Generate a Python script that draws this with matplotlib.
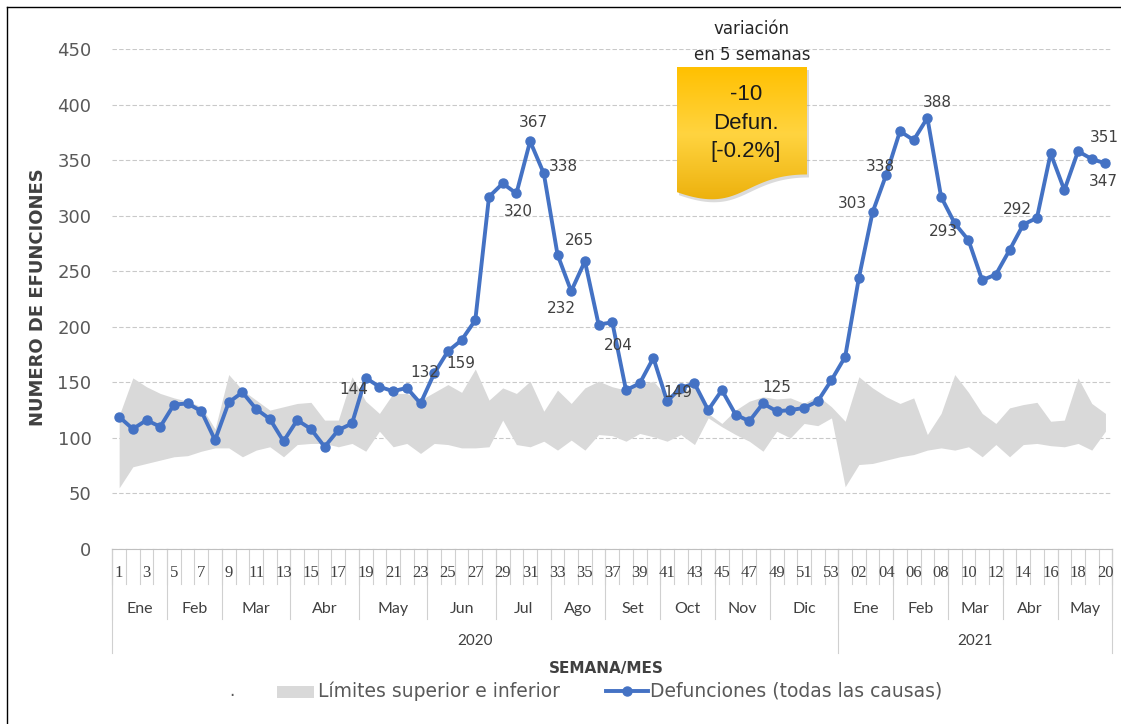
import numpy as np
import matplotlib
matplotlib.use('Agg')
import matplotlib.pyplot as plt
from matplotlib.patches import Polygon, Rectangle
from matplotlib.lines import Line2D

# ---- datos ----
semanas_2020 = [str(i) for i in range(1, 54)]
semanas_2021 = ['%02d' % i for i in range(1, 21)]
semanas = semanas_2020 + semanas_2021

meses_2020 = ['Ene', 'Feb', 'Mar', 'Abr', 'May', 'Jun', 'Jul', 'Ago', 'Set', 'Oct', 'Nov', 'Dic']
n_sem_2020 = [4, 4, 5, 5, 5, 5, 4, 4, 4, 4, 4, 5]
meses_2021 = ['Ene', 'Feb', 'Mar', 'Abr', 'May']
n_sem_2021 = [4, 4, 4, 4, 4]
anios = ['2020', '2021']

defunciones = [119, 108, 116, 110, 130, 131, 124, 98, 132, 141,
               126, 117, 97, 116, 108, 92, 107, 113, 154, 146,
               142, 145, 131, 158, 178, 188, 206, 317, 329, 320,
               367, 338, 265, 232, 259, 202, 204, 143, 149, 172,
               133, 145, 149, 125, 143, 121, 115, 131, 124, 125,
               127, 133, 152,
               173, 244, 303, 337, 376, 368, 388, 317, 293, 278,
               242, 247, 269, 292, 298, 356, 323, 358, 351, 347]

lim_sup = [120, 154, 146, 140, 136, 133, 128, 108, 157, 143,
           134, 125, 128, 131, 132, 116, 116, 155, 133, 122,
           140, 140, 134, 141, 148, 141, 162, 134, 145, 140,
           151, 124, 143, 131, 145, 151, 146, 143, 148, 151,
           137, 141, 146, 122, 113, 125, 133, 137, 135, 136,
           131, 138, 128,
           115, 155, 145, 137, 131, 136, 103, 122, 157, 141,
           122, 113, 127, 130, 132, 115, 116, 154, 131, 122]

lim_inf = [55, 74, 77, 80, 83, 84, 88, 91, 91, 83,
           89, 92, 83, 94, 95, 95, 92, 95, 88, 106,
           92, 95, 86, 95, 94, 91, 91, 92, 116, 94,
           92, 97, 89, 98, 89, 103, 102, 97, 104, 101,
           97, 103, 94, 118, 110, 103, 97, 88, 106, 100,
           113, 111, 118,
           56, 76, 77, 80, 83, 85, 89, 91, 89, 92,
           83, 94, 83, 94, 95, 93, 92, 95, 89, 106]

# etiquetas de datos (indice de semana, texto)
etiq_idx = [18, 22, 23, 30, 29, 31, 34, 33, 36, 40, 48, 55, 56, 59, 61, 66, 71, 72]
etiq_txt = ['144', '132', '159', '367', '320', '338', '265', '232', '204', '149',
            '125', '303', '338', '388', '293', '292', '351', '347']
# desplazamiento en pixeles (dx, dy)
etiq_off = [(-12, -12), (4, 31), (27, 10), (3, 19), (2, -18), (20, 7), (-6, 21),
            (-10, -17), (6, -23), (11, 9), (0, 24), (-20, 9), (-6, 8), (10, 15),
            (-11, -8), (-6, 15), (13, 22), (-2, -18)]

variacion = ['-10', 'Defun.', '[-0.2%]']

W, H = 1121, 724
fig = plt.figure(figsize=(W / 100, H / 100), dpi=100)
fig.patch.set_facecolor('white')

ax = fig.add_axes([112.3 / W, 1 - 549 / H, 1000 / W, 500 / H])
n = len(defunciones)
x = np.arange(n) + 0.5

ax.fill_between(x, lim_inf, lim_sup, color='#D9D9D9', lw=0, zorder=1)
ax.plot(x, defunciones, color='#4472C4', lw=2.8, marker='o', ms=6.5, zorder=3)

ax.set_xlim(0, n)
ax.set_ylim(0, 450)
ax.set_yticks(range(0, 451, 50))
ax.yaxis.grid(True, color='#C9C9C9', lw=0.8, ls=(0, (4, 2)))
ax.set_axisbelow(True)
ax.tick_params(axis='y', length=0, pad=15, labelsize=13, labelcolor='#595959')
ax.set_xticks([])
for s in ['top', 'right', 'left']:
    ax.spines[s].set_visible(False)
ax.spines['bottom'].set_color('#BFBFBF')

for i, t, (dx, dy) in zip(etiq_idx, etiq_txt, etiq_off):
    ax.annotate(t, xy=(i + 0.5, defunciones[i]), xytext=(dx, dy),
                textcoords='offset pixels', ha='center', va='center',
                fontsize=11, color='#404040', zorder=5)

# eje de categorias de varios niveles
tr = ax.get_xaxis_transform()
def ay(px):
    return -px / 500.0

sep = dict(color='#D0D0D0', lw=0.8, transform=tr, clip_on=False)
for k in range(n + 1):
    ax.plot([k, k], [0, ay(35)], **sep)

bordes_mes = np.cumsum([0] + n_sem_2020 + n_sem_2021)
for b in bordes_mes:
    ax.plot([b, b], [0, ay(70)], **sep)
for b in [0, len(semanas_2020), n]:
    ax.plot([b, b], [0, ay(104)], **sep)

for i in range(0, n, 2):
    ax.text(i + 0.5, ay(24), semanas[i], transform=tr, ha='center', va='center',
            fontsize=12, family='Liberation Serif', color='#404040')

meses = meses_2020 + meses_2021
for m, a, b in zip(meses, bordes_mes[:-1], bordes_mes[1:]):
    ax.text((a + b) / 2, ay(60), m, transform=tr, ha='center', va='center',
            fontsize=11.5, family='Lato', color='#404040')

for a_txt, a, b in zip(anios, [0, len(semanas_2020)], [len(semanas_2020), n]):
    ax.text((a + b) / 2, ay(92), a_txt, transform=tr, ha='center', va='center',
            fontsize=11, family='Lato', color='#404040')

# capa en pixeles para textos y figuras sueltas
ov = fig.add_axes([0, 0, 1, 1], zorder=10)
ov.set_xlim(0, W)
ov.set_ylim(H, 0)
ov.axis('off')
ov.patch.set_alpha(0)

ov.text(38, 297, 'NUMERO DE EFUNCIONES', rotation=90, ha='center', va='center',
        fontsize=13, fontweight='bold', color='#404040')
ov.text(606, 669, 'SEMANA/MES', ha='center', va='center', fontsize=11,
        fontweight='bold', color='#404040')

# leyenda
ov.text(232, 691, '.', ha='center', va='center', fontsize=12, color='#595959')
ov.add_patch(Rectangle((277, 686), 37, 12, color='#D9D9D9', lw=0))
ov.text(318, 691, 'Límites superior e inferior', ha='left', va='center',
        fontsize=13.5, color='#595959')
ov.add_line(Line2D([606, 648], [691, 691], color='#4472C4', lw=2.8))
ov.plot([627], [691], 'o', color='#4472C4', ms=6.5)
ov.text(650, 691, 'Defunciones (todas las causas)', ha='left', va='center',
        fontsize=13.5, color='#595959')

# cuadro de variacion
ov.text(752, 29, 'variación', ha='center', va='center', fontsize=12, color='#262626')
ov.text(752, 55, 'en 5 semanas', ha='center', va='center', fontsize=12, color='#262626')

bx0, by0, bw, bh = 677, 67, 130, 134
t = np.linspace(0, 1, 60)
p0 = np.array([bx0 + bw, by0 + 0.802 * bh])
p1 = np.array([bx0 + 0.5 * bw, by0 + 0.802 * bh])
p2 = np.array([bx0 + 0.5 * bw, by0 + 1.107 * bh])
p3 = np.array([bx0, by0 + 0.934 * bh])
curva = ((1 - t) ** 3)[:, None] * p0 + (3 * (1 - t) ** 2 * t)[:, None] * p1 \
    + (3 * (1 - t) * t ** 2)[:, None] * p2 + (t ** 3)[:, None] * p3
verts = np.vstack([[bx0, by0], [bx0 + bw, by0], curva])

sombra = Polygon(verts + [2, 3], closed=True, color='#999999', alpha=0.35, lw=0)
ov.add_patch(sombra)
caja = Polygon(verts, closed=True, facecolor='none', edgecolor='none')
ov.add_patch(caja)
cmap = matplotlib.colors.LinearSegmentedColormap.from_list(
    'oro', [(0, '#FFC000'), (0.45, '#FFD440'), (1, '#E8A800')])
grad = np.linspace(0, 1, 256)[:, None]
im = ov.imshow(grad, cmap=cmap, extent=[bx0, bx0 + bw, by0 + 1.12 * bh, by0],
               aspect='auto', zorder=2)
im.set_clip_path(caja)
ov.set_xlim(0, W)
ov.set_ylim(H, 0)

for j, txt in enumerate(variacion):
    ov.text(746, 95 + 28.5 * j, txt, ha='center', va='center', fontsize=16,
            family='Liberation Sans', color='#1A1A1A', zorder=3)

# borde de la figura
ov.plot([6.5, W], [6.5, 6.5], color='black', lw=1, clip_on=False)
ov.plot([6.5, 6.5], [6.5, H], color='black', lw=1, clip_on=False)

fig.savefig('out.png', dpi=100)
